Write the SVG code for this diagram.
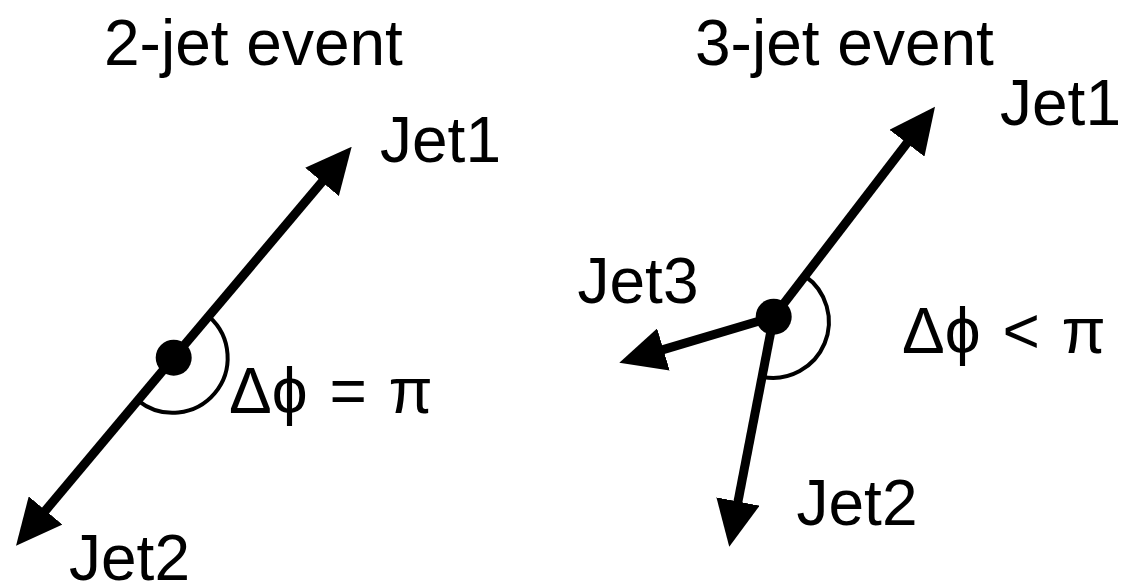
<svg xmlns="http://www.w3.org/2000/svg" width="1121" height="586" viewBox="0 0 1121 586">
<style>
.t{font-family:"Liberation Sans",Arial,Helvetica,sans-serif;font-size:64px;fill:#000}
.phi{font-family:"Liberation Sans","DejaVu Sans",sans-serif}
.jet{stroke:#000;stroke-width:9;fill:none;marker-end:url(#ah)}
.arc{stroke:#000;stroke-width:4;fill:none}
.dot{fill:#000}
</style>
<defs>
<marker id="ah" markerUnits="userSpaceOnUse" markerWidth="46" markerHeight="44" viewBox="-2 -22 46 44" refX="0" refY="0" orient="auto">
<path d="M-2,-22 L44,0 L-2,22 Z" fill="#000"/>
</marker>
</defs>
<rect width="1121" height="586" fill="#fff"/>
<g id="titles">
<text class="t" x="104" y="65">2-jet event</text>
<text class="t" x="695" y="65">3-jet event</text>
</g>
<g id="connectors">
<line class="jet" x1="173.7" y1="357.7" x2="323.3" y2="180.4"/>
<line class="jet" x1="173.7" y1="357.7" x2="44.3" y2="512"/>
<line class="jet" x1="773.7" y1="316.7" x2="908.2" y2="141.6"/>
<line class="jet" x1="773.7" y1="316.7" x2="661.5" y2="350.1"/>
<line class="jet" x1="773.7" y1="316.7" x2="737.6" y2="503.5"/>
<path class="arc" d="M209.5,317 A55,55 0 0 1 138.7,401.1"/>
<path class="arc" d="M805,276 A56,56 0 0 1 763,377"/>
</g>
<g id="event2">
<circle class="dot" cx="173.7" cy="357.7" r="18"/>
<text class="t" x="380" y="162">Jet1</text>
<text class="t" x="69" y="580">Jet2</text>
<text class="t" x="229" y="413" word-spacing="4">Δ<tspan class="phi">ϕ</tspan> = π</text>
</g>
<g id="event3">
<circle class="dot" cx="773.7" cy="316.7" r="18"/>
<text class="t" x="1000" y="125">Jet1</text>
<text class="t" x="577.5" y="303">Jet3</text>
<text class="t" x="796.5" y="525">Jet2</text>
<text class="t" x="902" y="353" word-spacing="4">Δ<tspan class="phi">ϕ</tspan> &lt; π</text>
</g>
</svg>
